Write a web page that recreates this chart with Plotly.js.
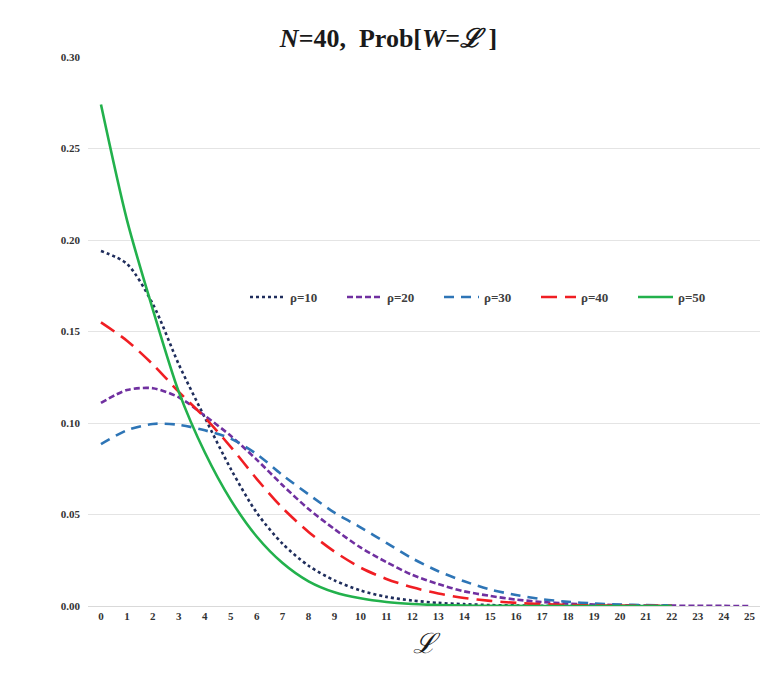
<!DOCTYPE html>
<html>
<head>
<meta charset="utf-8">
<script src="https://cdn.plot.ly/plotly-3.0.1.min.js"></script>
<style>html,body{margin:0;padding:0;background:#fff;}#chart{width:777px;height:683px;}</style>
</head>
<body>
<div id="chart"></div>
<script>
var xTicks = [0,1,2,3,4,5,6,7,8,9,10,11,12,13,14,15,16,17,18,19,20,21,22,23,24,25];
var seriesNames = ["ρ=10","ρ=20","ρ=30","ρ=40","ρ=50"];
var rho10 = [0.194,0.187,0.165,0.132,0.103,0.075,0.051,0.034,0.022,0.014,0.0085,0.005,0.003,0.0017,0.001,0.0005,0.0003,0.00015,0.0001,0.00005,0.00002,0.00001,0];
var rho20 = [0.111,0.118,0.119,0.114,0.104,0.093,0.080,0.066,0.053,0.042,0.032,0.024,0.017,0.012,0.008,0.0055,0.0035,0.0022,0.0013,0.0008,0.0005,0.0003,0.0002,0.0001,0.00005,0.00002];
var rho30 = [0.0885,0.096,0.0995,0.099,0.096,0.0915,0.083,0.0715,0.061,0.051,0.043,0.0345,0.026,0.019,0.0135,0.009,0.006,0.0037,0.0023,0.0014,0.0008,0.0005,0.0003];
var rho40 = [0.155,0.145,0.132,0.117,0.103,0.087,0.0695,0.0535,0.0405,0.0297,0.021,0.0148,0.0102,0.0068,0.0044,0.0028,0.0017,0.001,0.0006,0.0003,0.0002,0.0001,0.00005];
var rho50 = [0.274,0.211,0.162,0.117,0.084,0.058,0.038,0.0235,0.0135,0.0075,0.0042,0.0022,0.0011,0.0005,0.0002,0.0001,0.00005,0.00002,0.00001,0,0,0,0];

var colors = ["#1f2d5c","#7030a0","#2e75b6","#f01e23","#22b14c"];
var dashes = ["dot","6px,3px","10px,7px","16px,8px","solid"];
var allY = [rho10,rho20,rho30,rho40,rho50];

var traces = allY.map(function(ys,i){
  return {
    x: xTicks.slice(0, ys.length),
    y: ys,
    type: "scatter",
    mode: "lines",
    name: seriesNames[i],
    line: {color: colors[i], width: 2.6, dash: dashes[i], shape: "spline", smoothing: 0.8}
  };
});

var serif = "Liberation Serif, Times New Roman, serif";
var layout = {
  width: 777, height: 683,
  margin: {l: 88, r: 17, t: 57, b: 77},
  paper_bgcolor: "#fff", plot_bgcolor: "#fff",
  title: {
    text: "<b><i>N</i>=40,  Prob[<i>W</i>=<i>ℒ</i> ]</b>",
    font: {family: serif, size: 26, color: "#1a1a1a"},
    x: 0.5, xanchor: "center", y: 1 - 38/683, yanchor: "middle", yref: "container"
  },
  xaxis: {
    range: [-0.5, 25.4],
    tickmode: "array", tickvals: xTicks, ticktext: xTicks.map(String),
    showgrid: false, zeroline: false,
    showline: true, linecolor: "#d9d9d9", linewidth: 1,
    ticks: "",
    tickfont: {family: serif, size: 11, color: "#333", weight: "bold"},
    title: {text: "<i>ℒ</i>", font: {family: serif, size: 28, color: "#1a1a1a"}, standoff: 12}
  },
  yaxis: {
    range: [0, 0.30],
    tickvals: [0,0.05,0.10,0.15,0.20,0.25,0.30],
    tickformat: ".2f",
    showgrid: true, gridcolor: "#e4e4e4", gridwidth: 1,
    zeroline: false, showline: false, ticks: "",
    ticklabelstandoff: 7,
    tickfont: {family: serif, size: 11, color: "#333", weight: "bold"}
  },
  showlegend: true,
  legend: {
    orientation: "h",
    x: (245-88)/672, xanchor: "left",
    y: (606-297)/549, yanchor: "middle",
    bgcolor: "rgba(0,0,0,0)",
    font: {family: serif, size: 13, color: "#404040", weight: "bold"},
    itemwidth: 35,
    entrywidth: 47, entrywidthmode: "pixels",
    tracegroupgap: 0
  }
};

Plotly.newPlot("chart", traces, layout, {displayModeBar: false, staticPlot: true});
</script>
</body>
</html>
